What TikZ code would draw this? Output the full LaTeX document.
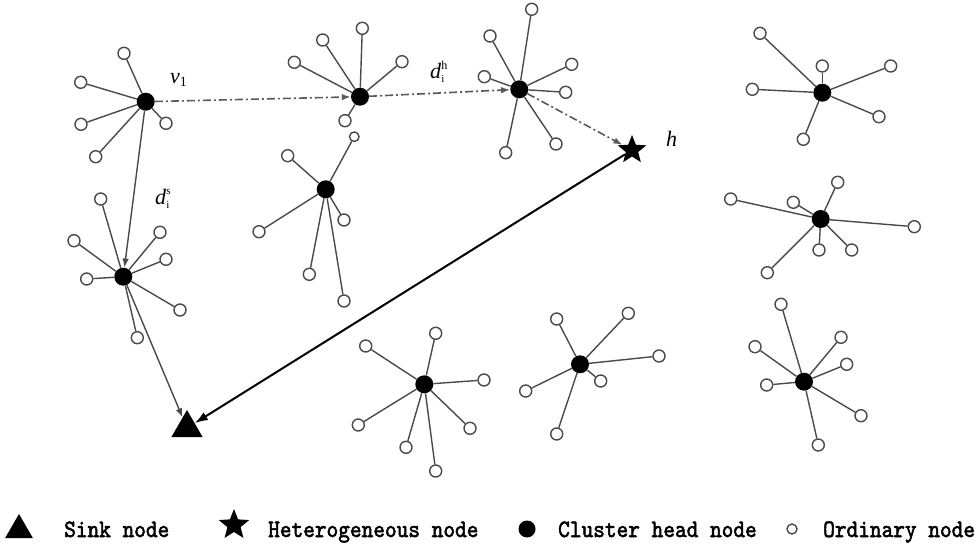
\documentclass[tikz,border=0pt]{standalone}
\usepackage{fontspec}
\usepackage{graphicx}
\newfontfamily\labfont{Liberation Serif}
\newfontfamily\legfont[Extension=.otf,FakeBold=2.2]{lmmono10-regular}
\usetikzlibrary{arrows.meta,shapes.geometric}
\definecolor{edgegray}{HTML}{4A4A4A}
\definecolor{dashgray}{HTML}{5A5A5A}
\newcommand{\legtxt}[1]{\scalebox{0.89}[1]{\legfont\fontsize{25}{25}\selectfont #1}}
\tikzset{
  head/.style={circle,fill=black,minimum size=18pt,inner sep=0pt},
  ord/.style={circle,draw=edgegray,line width=1.4pt,fill=white,minimum size=12pt,inner sep=0pt},
  ordsmall/.style={ord,minimum size=9.5pt},
  link/.style={draw=edgegray,line width=1.4pt},
  grayarrow/.style={draw=edgegray,line width=1.4pt,-{Latex[length=9pt,width=6.5pt]}},
  mainarrow/.style={draw=black,line width=2pt,-{Latex[length=13pt,width=9pt]}},
  dasharrow/.style={draw=dashgray,line width=1.6pt,dash pattern=on 8pt off 3pt on 2pt off 3pt,-{Latex[length=9pt,width=6.5pt]}},
  sinkshape/.style={regular polygon,regular polygon sides=3,fill=black,minimum size=36pt,inner sep=0pt},
  starshape/.style={star,star points=5,star point ratio=2.3,fill=black,minimum size=30pt,inner sep=0pt},
  lab/.style={anchor=base west,inner sep=0pt,font=\labfont\fontsize{22}{22}\selectfont},
  legtext/.style={anchor=base west,inner sep=0pt}
}
\begin{document}
\begin{tikzpicture}[x=1pt,y=-1pt]
\useasboundingbox (0,0) rectangle (980,545);

% cluster heads
\node[head] (h1) at (145.7,101.7) {};
\node[head] (h2) at (360,96.7) {};
\node[head] (h3) at (519.3,89.3) {};
\node[head] (h4) at (325.7,189.3) {};
\node[head] (h5) at (123.3,276.7) {};
\node[head] (h6) at (822.3,92.7) {};
\node[head] (h7) at (820.7,219) {};
\node[head] (h8) at (424.3,384.3) {};
\node[head] (h9) at (580,364.3) {};
\node[head] (h10) at (804,381.7) {};

% sink and heterogeneous node
\node[sinkshape] (sink) at (187,428) {};
\node[starshape] (het) at (632,150) {};

% ordinary nodes and links
\foreach \p [count=\i] in {(124,53.3),(80.7,82.3),(81,124.3),(95.7,156.7),(166,123.3)}
  {\node[ord] (oa\i) at \p {}; \draw[link] (h1) -- (oa\i);}
\foreach \p [count=\i] in {(362.3,28.3),(322.7,40),(294.3,62.3),(402,61.7),(345,120.7)}
  {\node[ord] (ob\i) at \p {}; \draw[link] (h2) -- (ob\i);}
\foreach \p [count=\i] in {(531.7,9.3),(490,36),(571.7,64.3),(484.3,76.7),(565.7,92.3),(505.7,152.7),(556,144)}
  {\node[ord] (oc\i) at \p {}; \draw[link] (h3) -- (oc\i);}
\node[ordsmall] (od0) at (354.3,136.7) {}; \draw[link] (h4) -- (od0);
\foreach \p [count=\i] in {(287.7,155.7),(259,231.7),(344,220),(309.3,274.3),(344,301)}
  {\node[ord] (od\i) at \p {}; \draw[link] (h4) -- (od\i);}
\foreach \p [count=\i] in {(100.7,199),(74,240.7),(160,232.3),(166,259.3),(86.7,279),(180,310),(137.3,337.7)}
  {\node[ord] (oe\i) at \p {}; \draw[link] (h5) -- (oe\i);}
\foreach \p [count=\i] in {(760,33.3),(822.3,66),(890.7,66),(752.3,89.3),(879,116.7),(803.3,139.3)}
  {\node[ord] (of\i) at \p {}; \draw[link] (h6) -- (of\i);}
\foreach \p [count=\i] in {(730.7,199),(837.7,182.3),(793.3,202.3),(914.3,226.7),(819,250),(851.7,250),(767.3,272.7)}
  {\node[ord] (og\i) at \p {}; \draw[link] (h7) -- (og\i);}
\foreach \p [count=\i] in {(435.7,333.3),(365.7,346),(484,380),(358.3,425),(470,428.3),(406,447.3),(435.7,471)}
  {\node[ord] (oh\i) at \p {}; \draw[link] (h8) -- (oh\i);}
\foreach \p [count=\i] in {(556.7,319),(628.3,313.3),(659,356),(600.7,381),(525.7,391),(556.7,434)}
  {\node[ord] (oi\i) at \p {}; \draw[link] (h9) -- (oi\i);}
\foreach \p [count=\i] in {(781,304.3),(755,346.7),(841,337.3),(846.7,364.3),(766.7,385),(861,415.7),(818.3,445)}
  {\node[ord] (oj\i) at \p {}; \draw[link] (h10) -- (oj\i);}

% routing arrows
\draw[dasharrow] (h1) -- (h2);
\draw[dasharrow] (h2) -- (h3);
\draw[dasharrow] (h3) -- (het);
\draw[grayarrow] (h1) -- (h5);
\draw[grayarrow] (h5) -- (sink);
\draw[mainarrow] (het) -- (sink);

% labels
\node[lab] (lv) at (170,84) {\textit{v}\raisebox{-3pt}{\fontsize{14}{14}\selectfont 1}};
\node[lab] (ldh) at (430,79) {\textit{d}\rlap{\raisebox{-4pt}{\fontsize{11}{11}\selectfont i}}\raisebox{9pt}{\fontsize{12}{12}\selectfont h}};
\node[lab] (lds) at (155,205) {\textit{d}\rlap{\raisebox{-4pt}{\fontsize{11}{11}\selectfont i}}\raisebox{10pt}{\fontsize{11}{11}\selectfont s}};
\node[lab] (lh) at (666,147) {\textit{h}};

% legend
\node[regular polygon,regular polygon sides=3,fill=black,minimum size=32pt,inner sep=0pt] (legsink) at (19,530) {};
\node[legtext] (legsinkt) at (64,537) {\legtxt{Sink node}};
\node[starshape,minimum size=32pt] (leghet) at (234,525) {};
\node[legtext] (leghett) at (268,537) {\legtxt{Heterogeneous node}};
\node[head,minimum size=17pt] (leghead) at (527,529) {};
\node[legtext] (legheadt) at (558,537) {\legtxt{Cluster head node}};
\node[ord,minimum size=10pt] (legord) at (792,529) {};
\node[legtext] (legordt) at (823,537) {\legtxt{Ordinary node}};
\end{tikzpicture}
\end{document}
